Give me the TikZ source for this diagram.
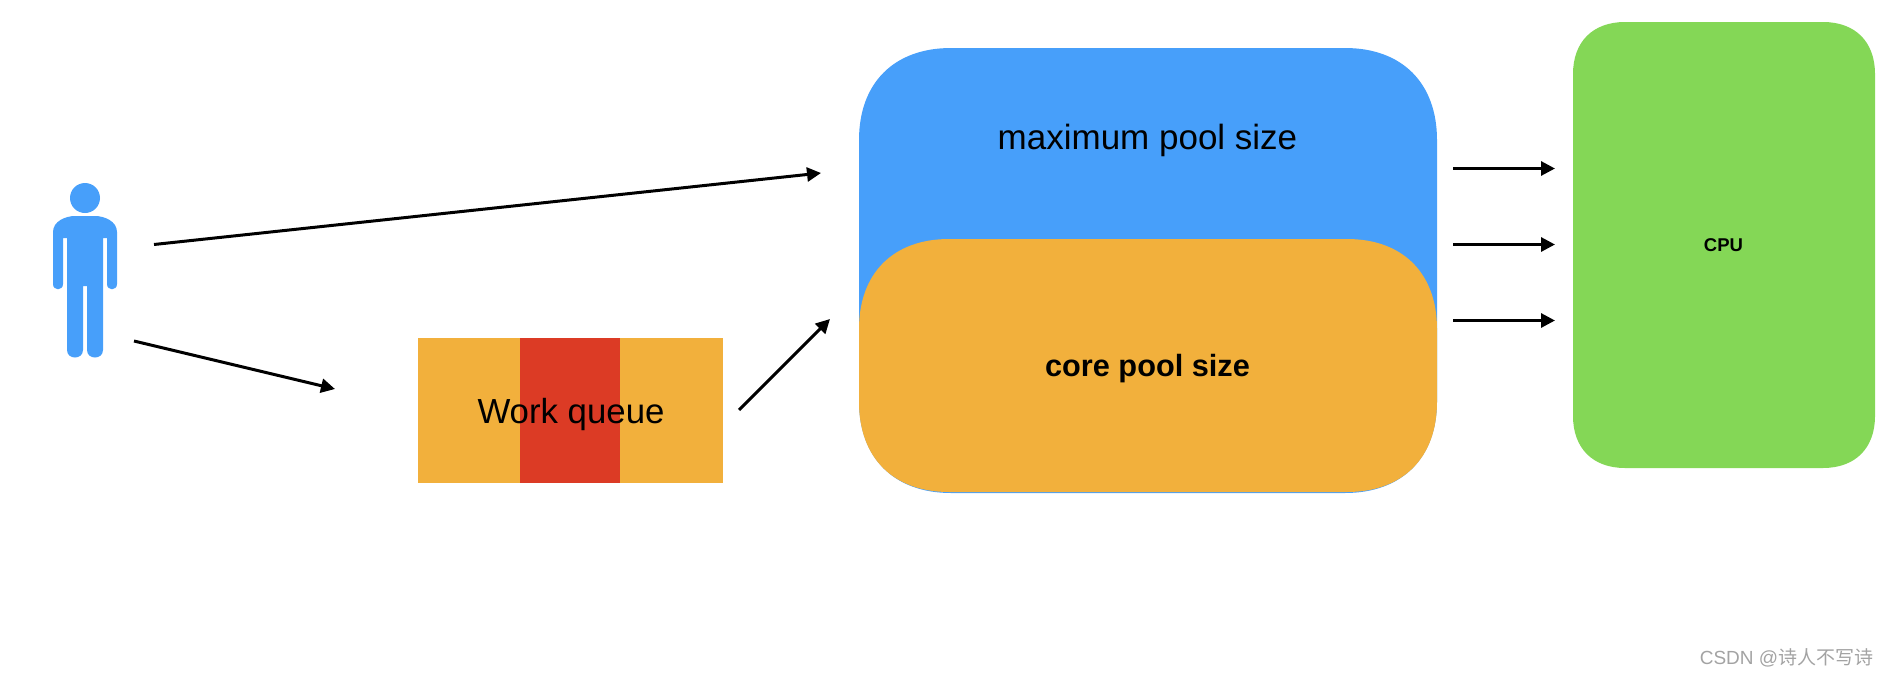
\documentclass[tikz,border=0pt]{standalone}
\usepackage{fontspec}
\setmainfont{Liberation Sans}
\newfontfamily\cjkf{Noto Sans CJK SC}
\usetikzlibrary{arrows.meta}
\definecolor{blueC}{HTML}{479FFA}
\definecolor{orangeC}{HTML}{F2B03C}
\definecolor{redC}{HTML}{DC3B25}
\definecolor{greenC}{HTML}{84D756}
\newcommand{\squircle}[6]{%
 \fill[#6] (#2,{#3+#5}) .. controls (#2,{#3+0.38*#5}) and ({#2+0.38*#5},#3) .. ({#2+#5},#3)
  -- ({#4-#5},#3) .. controls ({#4-0.38*#5},#3) and (#4,{#3+0.38*#5}) .. (#4,{#3+#5})
  -- (#4,{#1-#5}) .. controls (#4,{#1-0.38*#5}) and ({#4-0.38*#5},#1) .. ({#4-#5},#1)
  -- ({#2+#5},#1) .. controls ({#2+0.38*#5},#1) and (#2,{#1-0.38*#5}) .. (#2,{#1-#5}) -- cycle;}
\tikzset{
  conn/.style={draw=black,line width=3pt,-{Triangle[length=14pt,width=14pt]}},
  lbl/.style={inner sep=0pt,text=black,anchor=center},
  pers/.style={fill=blueC,draw=none}
}
\begin{document}
\begin{tikzpicture}[x=1pt,y=-1pt]
\useasboundingbox (0,0) rectangle (1888,678);
% pool shapes (args: bottom, left, top, right, radius, colour)
\squircle{493}{859}{48}{1437}{92}{blueC}
\squircle{492}{859}{239}{1437}{90}{orangeC}
\squircle{468}{1573}{22}{1875}{52}{greenC}
% work queue
\fill[orangeC] (418,338) rectangle (723,483);
\fill[redC] (520,338) rectangle (620,483);
% person
\fill[pers] (85,198) circle (15);
\fill[pers] (53,232) .. controls (53,221) and (66,216) .. (75,216) -- (95,216)
  .. controls (104,216) and (117,221) .. (117,232) -- (117,284)
  .. controls (117,291) and (107,291) .. (107,284) -- (107,238) -- (103,238)
  -- (103,350) .. controls (103,360) and (87,360) .. (87,350) -- (87,286) -- (83,286)
  -- (83,350) .. controls (83,360) and (67,360) .. (67,350) -- (67,238) -- (63,238)
  -- (63,284) .. controls (63,291) and (53,291) .. (53,284) -- cycle;
% labels
\node[lbl,font=\fontsize{35}{35}\selectfont] (maxl) at (1147.5,140) {maximum pool size};
\node[lbl,font=\fontsize{30.7}{31}\bfseries\selectfont] (corel) at (1147.5,369) {core pool size};
\node[lbl,font=\fontsize{34.8}{35}\selectfont] (wq) at (571,414) {Work queue};
\node[lbl,font=\fontsize{18.5}{18.5}\bfseries\selectfont] (cpu) at (1723.5,245.5) {CPU};
\node[lbl,text=black!36,font=\fontsize{19}{19}\selectfont] (wm) at (1786.5,658) {CSDN @{\cjkf 诗人不写诗}};
% connector ends
\coordinate (a1) at (154,244.5); \coordinate (b1) at (821,173);
\coordinate (a2) at (134,341); \coordinate (b2) at (335,389);
\coordinate (a3) at (739,410); \coordinate (b3) at (830,319);
\coordinate (c1) at (1453,168.5); \coordinate (d1) at (1555,168.5);
\coordinate (c2) at (1453,244.5); \coordinate (d2) at (1555,244.5);
\coordinate (c3) at (1453,320.5); \coordinate (d3) at (1555,320.5);
\draw[conn] (a1) -- (b1);
\draw[conn] (a2) -- (b2);
\draw[conn] (a3) -- (b3);
\draw[conn] (c1) -- (d1);
\draw[conn] (c2) -- (d2);
\draw[conn] (c3) -- (d3);
\end{tikzpicture}
\end{document}
